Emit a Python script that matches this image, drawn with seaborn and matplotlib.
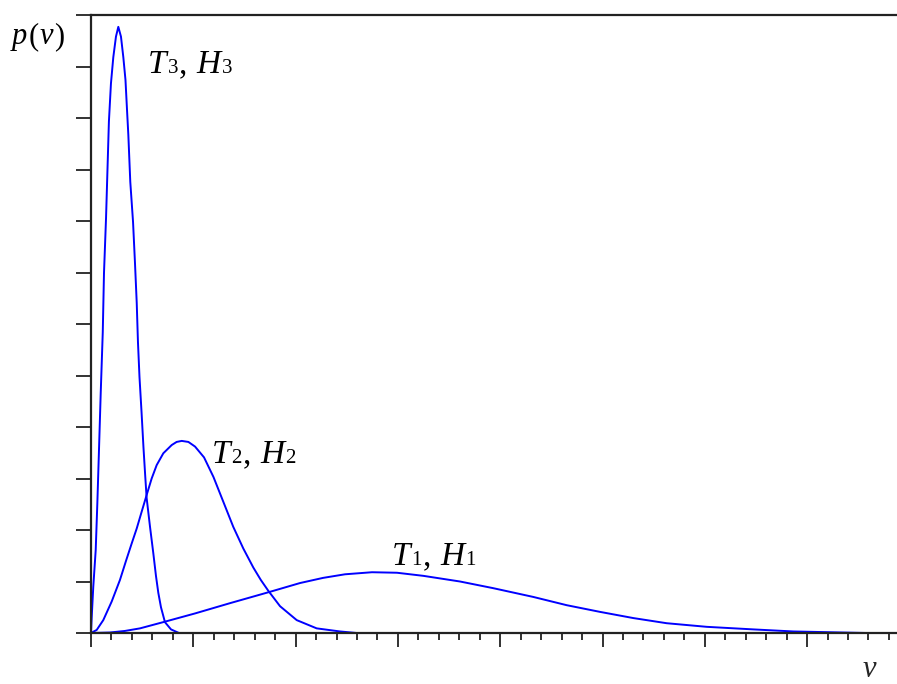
import matplotlib
matplotlib.use('Agg')
import pandas as pd
import seaborn as sns
import matplotlib.pyplot as plt
import matplotlib.transforms as mtransforms
from matplotlib.ticker import MultipleLocator

# Curvas (v en unidades de marca mayor, p en unidades de marca del eje y)
v3 = [0.000, 0.007, 0.022, 0.046, 0.062, 0.078, 0.095, 0.115, 0.127, 0.147, 0.175,
      0.195, 0.218, 0.244, 0.267, 0.293, 0.316, 0.337, 0.352, 0.365, 0.384,
      0.411, 0.430, 0.447, 0.459, 0.474, 0.494, 0.513, 0.530, 0.544, 0.577, 0.609,
      0.635, 0.658, 0.684, 0.723, 0.782, 0.860]
p3 = [0.00, 0.31, 0.89, 1.61, 2.52, 3.55, 4.66, 5.84, 6.99, 8.06, 9.93,
      10.67, 11.18, 11.58, 11.77, 11.58, 11.18, 10.74, 10.16, 9.67, 8.76,
      7.98, 7.18, 6.41, 5.65, 4.97, 4.29, 3.60, 3.05, 2.62, 2.06, 1.55,
      1.11, 0.78, 0.50, 0.21, 0.07, 0.00]

v2 = [0.000, 0.056, 0.120, 0.202, 0.283, 0.342, 0.398, 0.447, 0.496, 0.544, 0.593,
      0.642, 0.707, 0.789, 0.837, 0.887, 0.952, 1.017, 1.105, 1.197, 1.293, 1.391,
      1.489, 1.587, 1.660, 1.733, 1.848, 2.011, 2.206, 2.434, 2.597]
p2 = [0.00, 0.06, 0.25, 0.61, 1.03, 1.40, 1.74, 2.03, 2.36, 2.68, 3.00,
      3.26, 3.49, 3.65, 3.71, 3.73, 3.71, 3.62, 3.41, 3.03, 2.55, 2.06,
      1.64, 1.27, 1.03, 0.82, 0.52, 0.25, 0.09, 0.03, 0.00]

v1 = [0.000, 0.186, 0.332, 0.479, 0.723, 1.017, 1.360, 1.750, 2.043, 2.268, 2.483,
      2.747, 2.991, 3.248, 3.607, 3.933, 4.324, 4.650, 4.976, 5.301, 5.627,
      6.018, 6.474, 6.865, 7.583]
p1 = [0.00, 0.01, 0.04, 0.09, 0.22, 0.38, 0.58, 0.80, 0.97, 1.07, 1.14,
      1.18, 1.17, 1.11, 1.00, 0.87, 0.70, 0.54, 0.41, 0.29, 0.19,
      0.12, 0.07, 0.03, 0.00]

curvas = {'3': (v3, p3), '2': (v2, p2), '1': (v1, p1)}

sns.set_style('ticks')
plt.rcParams['font.family'] = ['Liberation Serif', 'DejaVu Serif']

fig = plt.figure(figsize=(8.97, 6.84), dpi=100)
ax = fig.add_axes([91 / 897, 51 / 684, 806 / 897, 618 / 684])

for k, (v, p) in curvas.items():
    df = pd.DataFrame({'v': v, 'p': p})
    sns.lineplot(data=df, x='v', y='p', ax=ax, color='#0000ff', linewidth=1.4,
                 sort=False, estimator=None)

ax.set_xlim(0, 806 / 102.3)
ax.set_ylim(0, 12)
ax.xaxis.set_major_locator(MultipleLocator(1))
ax.xaxis.set_minor_locator(MultipleLocator(0.2))
ax.yaxis.set_major_locator(MultipleLocator(1))
ax.set_xticklabels([])
ax.set_yticklabels([])
ax.set_xlabel('')
ax.set_ylabel('')
ax.tick_params(axis='x', which='major', direction='out', length=10, width=1.3, color='#222222')
ax.tick_params(axis='x', which='minor', direction='out', length=5, width=1.3, color='#222222')
ax.tick_params(axis='y', which='major', direction='out', length=11, width=1.3, color='#222222')
for s in ['left', 'bottom', 'top']:
    ax.spines[s].set_visible(True)
    ax.spines[s].set_linewidth(1.6)
    ax.spines[s].set_color('#222222')
ax.spines['right'].set_visible(False)

renderer = fig.canvas.get_renderer()


def en_linea(x, y, partes, base):
    # coloca trozos de texto uno tras otro sobre la misma línea base
    dx = 0
    for s, size, style in partes:
        tr = mtransforms.offset_copy(base, fig=fig, x=dx, y=0, units='dots')
        t = fig.text(x, y, s, transform=tr, fontsize=size, style=style,
                     va='baseline', ha='left', color='black')
        dx += t.get_window_extent(renderer).width + 1


def etiqueta(x, y, num):
    partes = [('T', 24, 'italic'), (num, 15, 'normal'), (', ', 24, 'normal'),
              ('H', 24, 'italic'), (num, 15, 'normal')]
    en_linea(x, y, partes, ax.transData)


etiqueta(0.557, 10.87, '3')
etiqueta(1.18, 3.30, '2')
etiqueta(2.94, 1.32, '1')

en_linea(12 / 897, 1 - 44 / 684,
         [('p', 22, 'italic'), ('(', 22, 'normal'), ('v', 22, 'italic'), (')', 22, 'normal')],
         fig.transFigure)

fig.text(863 / 897, 1 - 677 / 684, 'v', fontsize=22, style='italic', va='baseline', ha='left')

fig.savefig('out.png', dpi=100)
